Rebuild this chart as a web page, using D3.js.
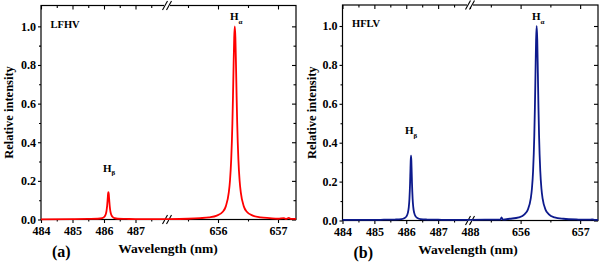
<!DOCTYPE html>
<meta charset="utf-8">
<script src="https://d3js.org/d3.v7.min.js"></script>
<style>
  body { margin: 0; background: #fff; }
</style>
<body>
<div id="chart"></div>
<script>

// x ranges on each side of the axis break (nm)
var segLeft = [484, 488],
    segRight = [655.15, 657.3];

var yTicks = [0, 0.2, 0.4, 0.6, 0.8, 1.0],
    yMinor = [0.1, 0.3, 0.5, 0.7, 0.9],
    xTicksLeftA = [484, 485, 486, 487],
    xTicksLeftB = [484, 485, 486, 487, 488],
    xMinorLeft = [484.5, 485.5, 486.5, 487.5],
    xTicksRight = [656, 657],
    xMinorRight = [655.5, 656.5];

// panel (a) LFHV spectrum
var waveA1 = [484, 485, 485.5, 485.8, 485.94, 485.99, 486.04, 486.06, 486.08, 486.1, 486.11, 486.12, 486.13, 486.14,
              486.15, 486.16, 486.17, 486.18, 486.2, 486.22, 486.24, 486.29, 486.34, 486.44, 486.7, 487, 487.5, 488];
var intA1 = [0.001, 0.002, 0.003, 0.004, 0.007, 0.011, 0.021, 0.030, 0.045, 0.072, 0.092, 0.114, 0.134, 0.142,
             0.134, 0.114, 0.092, 0.072, 0.045, 0.030, 0.021, 0.011, 0.007, 0.004, 0.003, 0.002, 0.002, 0.002];
var waveA2 = [655.15, 655.5, 655.7, 655.85, 655.98, 656.08, 656.13, 656.18, 656.2, 656.22, 656.24, 656.25, 656.26, 656.27,
              656.28, 656.29, 656.3, 656.31, 656.32, 656.34, 656.36, 656.38, 656.43, 656.48, 656.58, 656.71, 656.86,
              657.0, 657.1, 657.13, 657.18, 657.22, 657.3];
var intA2 = [0.002, 0.004, 0.007, 0.011, 0.020, 0.040, 0.068, 0.140, 0.202, 0.31, 0.50, 0.64, 0.80, 0.94,
             1.0, 0.94, 0.80, 0.64, 0.50, 0.31, 0.202, 0.140, 0.068, 0.040, 0.020, 0.011, 0.007,
             0.004, 0.007, 0.003, 0.008, 0.003, 0.003];

// panel (b) HFLV spectrum
var waveB1 = [484, 485, 485.3, 485.65, 485.85, 485.95, 486.0, 486.05, 486.08, 486.1, 486.12, 486.13, 486.14, 486.15,
              486.16, 486.17, 486.18, 486.2, 486.22, 486.25, 486.3, 486.35, 486.45, 486.65, 487, 487.5, 488];
var intB1 = [0.003, 0.003, 0.004, 0.005, 0.007, 0.013, 0.020, 0.039, 0.069, 0.112, 0.193, 0.252, 0.308, 0.333,
             0.308, 0.252, 0.193, 0.112, 0.069, 0.039, 0.020, 0.013, 0.007, 0.005, 0.004, 0.003, 0.003];
var waveB2 = [655.15, 655.4, 655.6, 655.66, 655.68, 655.7, 655.82, 655.97, 656.07, 656.12, 656.17, 656.19, 656.21,
              656.23, 656.24, 656.25, 656.26, 656.27, 656.28, 656.29, 656.3, 656.31, 656.33, 656.35, 656.37, 656.42,
              656.47, 656.57, 656.72, 656.97, 657.15, 657.2, 657.25, 657.3];
var intB2 = [0.003, 0.004, 0.004, 0.005, 0.016, 0.005, 0.009, 0.016, 0.033, 0.055, 0.112, 0.163, 0.257,
             0.437, 0.579, 0.757, 0.928, 1.0, 0.928, 0.757, 0.579, 0.437, 0.257, 0.163, 0.112, 0.055,
             0.033, 0.016, 0.009, 0.005, 0.004, 0.006, 0.003, 0.003];

var FONT = "Liberation Serif";

var svg = d3.select("#chart").append("svg")
    .attr("width", 602)
    .attr("height", 262);

// serif bold text helper
function label(sel) {
  return sel.append("text").attr("font-family", FONT).attr("font-weight", "bold").attr("fill", "#000");
}

function tidy(a) {
  a.attr("font-family", FONT).attr("font-size", 12);
  a.select(".domain").remove();
  a.selectAll("line").attr("stroke-width", 1.1);
  a.selectAll("text").attr("font-family", FONT).attr("font-weight", "bold")
    .attr("font-size", 12).attr("fill", "#000");
}

function drawPanel(p) {
  var g = svg.append("g");
  var xL = d3.scaleLinear().domain(segLeft).range([p.left, p.brk]);
  var xR = d3.scaleLinear().domain(segRight).range([p.brk, p.right]);
  var y = d3.scaleLinear().domain([0, 1.108]).range([p.bottom, p.top]);

  // frame
  g.append("rect")
    .attr("x", p.left).attr("y", p.top)
    .attr("width", p.right - p.left).attr("height", p.bottom - p.top)
    .attr("fill", "none").attr("stroke", "#000").attr("stroke-width", 1.2);

  // bottom ticks (outward) + labels, top ticks (inward)
  [[xL, p.xTicksLeft, xMinorLeft], [xR, xTicksRight, xMinorRight]].forEach(function(s) {
    var sc = s[0];
    g.append("g").attr("transform", "translate(0," + p.bottom + ")")
      .call(d3.axisBottom(sc).tickValues(s[1]).tickSize(3.5).tickPadding(3).tickFormat(d3.format("d")))
      .call(tidy);
    g.append("g").attr("transform", "translate(0," + p.bottom + ")")
      .call(d3.axisBottom(sc).tickValues(s[2]).tickSize(2).tickFormat(""))
      .call(tidy);
    g.append("g").attr("transform", "translate(0," + p.top + ")")
      .call(d3.axisTop(sc).tickValues(s[1]).tickSize(-4).tickFormat(""))
      .call(tidy);
    g.append("g").attr("transform", "translate(0," + p.top + ")")
      .call(d3.axisTop(sc).tickValues(s[2]).tickSize(-2.5).tickFormat(""))
      .call(tidy);
  });

  // left axis (outward) and right axis (inward)
  g.append("g").attr("transform", "translate(" + p.left + ",0)")
    .call(d3.axisLeft(y).tickValues(yTicks).tickSize(3).tickPadding(2).tickFormat(d3.format(".1f")))
    .call(tidy);
  g.append("g").attr("transform", "translate(" + p.left + ",0)")
    .call(d3.axisLeft(y).tickValues(yMinor).tickSize(2).tickFormat(""))
    .call(tidy);
  g.append("g").attr("transform", "translate(" + p.right + ",0)")
    .call(d3.axisRight(y).tickValues(yTicks).tickSize(-4).tickFormat(""))
    .call(tidy);
  g.append("g").attr("transform", "translate(" + p.right + ",0)")
    .call(d3.axisRight(y).tickValues(yMinor).tickSize(-2.5).tickFormat(""))
    .call(tidy);

  // axis break marks
  [p.top, p.bottom].forEach(function(yy) {
    g.append("rect").attr("x", p.brk - 3).attr("y", yy - 2).attr("width", 6).attr("height", 4).attr("fill", "#fff");
    [-2, 2].forEach(function(o) {
      g.append("line")
        .attr("x1", p.brk + o - 2.5).attr("y1", yy + 4.5)
        .attr("x2", p.brk + o + 2.5).attr("y2", yy - 4.5)
        .attr("stroke", "#000").attr("stroke-width", 1.1);
    });
  });

  // spectrum
  var lineL = d3.line().x(function(d) { return xL(d[0]); }).y(function(d) { return y(d[1]); }).curve(d3.curveMonotoneX);
  var lineR = d3.line().x(function(d) { return xR(d[0]); }).y(function(d) { return y(d[1]); }).curve(d3.curveMonotoneX);
  g.append("path").datum(d3.zip(p.w1, p.i1)).attr("d", lineL)
    .attr("fill", "none").attr("stroke", p.color).attr("stroke-width", 1.8);
  g.append("path").datum(d3.zip(p.w2, p.i2)).attr("d", lineR)
    .attr("fill", "none").attr("stroke", p.color).attr("stroke-width", 1.8);

  // texts
  label(g).attr("x", p.left + 9.5).attr("y", p.top + 22).attr("font-size", 10.5).text(p.name);

  var ha = label(g).attr("x", p.haX).attr("y", p.haY).attr("font-size", 11);
  ha.append("tspan").text("H");
  ha.append("tspan").attr("font-size", 7).attr("dy", 3.5).text("α");
  var hb = label(g).attr("x", p.hbX).attr("y", p.hbY).attr("font-size", 11);
  hb.append("tspan").text("H");
  hb.append("tspan").attr("font-size", 7).attr("dy", 3.5).text("β");

  label(g)
    .attr("transform", "translate(" + p.ylabX + "," + ((p.top + p.bottom) / 2) + ") rotate(-90)")
    .attr("text-anchor", "middle").attr("font-size", 12.5).text("Relative intensity");
  label(g).attr("x", p.xlabX).attr("y", p.bottom + 33)
    .attr("text-anchor", "middle").attr("font-size", 13.5).text("Wavelength (nm)");
  label(g).attr("x", p.left + 11).attr("y", p.bottom + 37.5)
    .attr("font-size", 16).text(p.tag);
}

drawPanel({ left: 41, right: 296, brk: 167, top: 5.5, bottom: 219.5, color: "#ff0000",
  xTicksLeft: xTicksLeftA, w1: waveA1, i1: intA1, w2: waveA2, i2: intA2,
  name: "LFHV", tag: "(a)", haX: 230, haY: 20, hbX: 103, hbY: 171.5, ylabX: 13, xlabX: 168 });

drawPanel({ left: 342.5, right: 598, brk: 470, top: 5, bottom: 220.5, color: "#0d1a8c",
  xTicksLeft: xTicksLeftB, w1: waveB1, i1: intB1, w2: waveB2, i2: intB2,
  name: "HFLV", tag: "(b)", haX: 532, haY: 20, hbX: 405, hbY: 134, ylabX: 316, xlabX: 468 });

</script>
</body>
